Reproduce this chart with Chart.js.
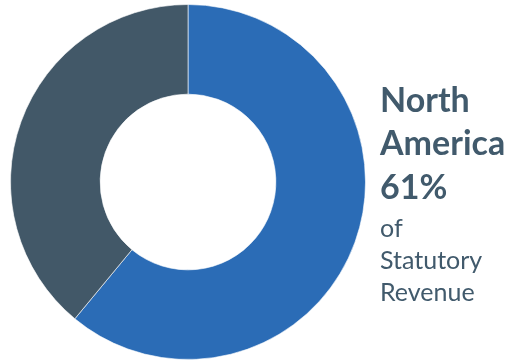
<!DOCTYPE html>
<html>
<head>
<meta charset="utf-8">
<script src="https://cdn.jsdelivr.net/npm/chart.js@4/dist/chart.umd.min.js"></script>
<style>
  html, body { margin: 0; padding: 0; background: #fff; }
  #wrap { position: relative; width: 512px; height: 362px; }
</style>
</head>
<body>
<div id="wrap"><canvas id="regionChart" width="512" height="362"></canvas></div>
<script>
const regions = ['North America', 'Rest of World'];
const shares = [61, 39];
const sliceColors = ['#2b6cb6', '#425868'];

// side caption: [text, bold, baseline y]
const captionLines = [
    ['North', true, 112],
    ['America', true, 155],
    ['61%', true, 199],
    ['of', false, 237],
    ['Statutory', false, 269],
    ['Revenue', false, 301]
];

const captionPlugin = {
    id: 'caption',
    afterDraw(chart) {
        const ctx = chart.ctx;
        ctx.save();
        ctx.fillStyle = '#415a6c';
        ctx.textAlign = 'left';
        ctx.textBaseline = 'alphabetic';
        captionLines.forEach(([txt, bold, y]) => {
            ctx.font = bold ? 'bold 34px Lato' : '25px Lato';
            ctx.fillText(txt, 380, y);
        });
        ctx.restore();
    }
};

new Chart(document.getElementById('regionChart'), {
    type: 'doughnut',
    data: {
        labels: regions,
        datasets: [{
            data: shares,
            backgroundColor: sliceColors,
            borderColor: 'rgba(255,255,255,0.6)',
            borderWidth: 1
        }]
    },
    options: {
        responsive: false,
        animation: false,
        cutout: '49.5%',
        layout: { padding: { left: 10, right: 146, top: 4, bottom: 2 } },
        plugins: {
            legend: { display: false },
            tooltip: { enabled: false }
        }
    },
    plugins: [captionPlugin]
});
</script>
</body>
</html>
